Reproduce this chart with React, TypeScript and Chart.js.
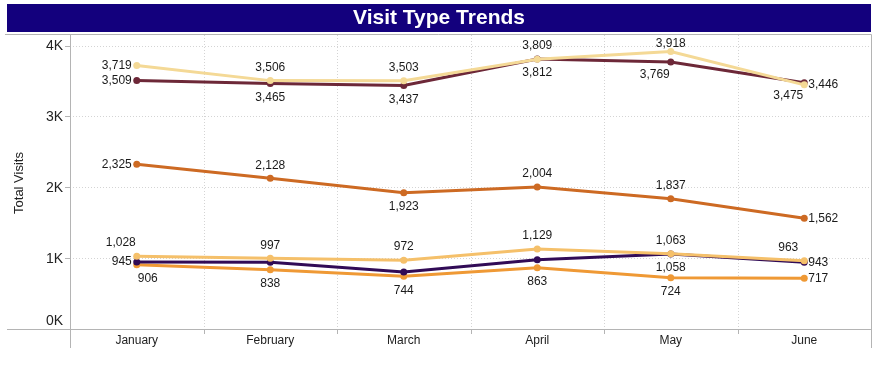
import React, { useEffect, useRef } from "react";
import { Chart, registerables } from "chart.js";

Chart.register(...registerables);

const months = ["January", "February", "March", "April", "May", "June"];
const yTicks = [0, 1000, 2000, 3000, 4000];

const seriesA = [3719, 3506, 3503, 3809, 3918, 3446];
const seriesB = [3509, 3465, 3437, 3812, 3769, 3475];
const seriesC = [2325, 2128, 1923, 2004, 1837, 1562];
const seriesD = [1028, 997, 972, 1129, 1063, 963];
const seriesE = [945, 942, 805, 978, 1058, 943];
const seriesF = [906, 838, 744, 863, 724, 717];

// label placement per point (null = hidden)
const placeA = ["l", "t", "t", "t", "t", "r"];
const placeB = ["l", "b", "b", "b", "bl", "bl"];
const placeC = ["l", "t", "b", "t", "t", "r"];
const placeD = ["tl", "t", "t", "t", "t", "tl"];
const placeE = ["l", null, null, null, "b", "r"];
const placeF = ["br", "b", "b", "b", "b", "r"];

const FONT = "'Liberation Sans', Arial, sans-serif";

const fmt = (v: number) => v.toLocaleString("en-US");

const customPlugin = {
  id: "custom",
  beforeDraw(chart: any) {
    const { ctx, chartArea, scales } = chart;
    const { left, right, top, bottom } = chartArea;
    ctx.save();
    // title bar
    ctx.fillStyle = "#13007d";
    ctx.fillRect(7, 4, 864, 28);
    ctx.fillStyle = "#ffffff";
    ctx.font = `bold 21px 'Liberation Sans Narrow', 'Arial Narrow', ${FONT}`;
    ctx.textAlign = "center";
    ctx.textBaseline = "middle";
    ctx.fillText("Visit Type Trends", 439, 18);

    // grid lines dotted
    ctx.strokeStyle = "#d4d4d4";
    ctx.lineWidth = 1;
    ctx.setLineDash([1, 2]);
    const x = scales.x;
    const y = scales.y;
    const n = months.length;
    const step = (right - left) / n;
    for (let i = 1; i < n; i++) {
      const gx = Math.round(left + step * i) + 0.5;
      ctx.beginPath();
      ctx.moveTo(gx, top);
      ctx.lineTo(gx, bottom);
      ctx.stroke();
    }
    yTicks.forEach((t) => {
      if (t === 0) return;
      const gy = Math.round(y.getPixelForValue(t)) + 0.5;
      ctx.beginPath();
      ctx.moveTo(left, gy);
      ctx.lineTo(right, gy);
      ctx.stroke();
    });
    ctx.setLineDash([]);

    // frame
    ctx.strokeStyle = "#b4b4b4";
    ctx.beginPath();
    ctx.moveTo(5, 34.5);
    ctx.lineTo(right + 0.5, 34.5);
    ctx.stroke();
    ctx.beginPath();
    ctx.moveTo(right + 0.5, 34.5);
    ctx.lineTo(right + 0.5, 348);
    ctx.stroke();
    ctx.beginPath();
    ctx.moveTo(left + 0.5, 34.5);
    ctx.lineTo(left + 0.5, 348);
    ctx.stroke();
    ctx.beginPath();
    ctx.moveTo(7, bottom + 0.5);
    ctx.lineTo(right, bottom + 0.5);
    ctx.stroke();

    // x tick marks
    for (let i = 1; i < n; i++) {
      const gx = Math.round(left + step * i) + 0.5;
      ctx.beginPath();
      ctx.moveTo(gx, bottom);
      ctx.lineTo(gx, bottom + 5);
      ctx.stroke();
    }
    // y tick marks
    yTicks.forEach((t) => {
      if (t === 0) return;
      const gy = Math.round(y.getPixelForValue(t)) + 0.5;
      ctx.beginPath();
      ctx.moveTo(left - 5, gy);
      ctx.lineTo(left, gy);
      ctx.stroke();
    });

    // y labels
    ctx.fillStyle = "#222";
    ctx.font = `14px ${FONT}`;
    ctx.textAlign = "right";
    ctx.textBaseline = "middle";
    yTicks.forEach((t) => {
      let gy = y.getPixelForValue(t);
      gy = Math.min(gy, bottom - 9);
      ctx.fillText(`${t / 1000}K`, left - 7, gy + 1);
    });

    // x labels
    ctx.font = `12px ${FONT}`;
    ctx.textAlign = "center";
    months.forEach((m, i) => {
      ctx.fillText(m, x.getPixelForValue(i), bottom + 12);
    });

    // axis title
    ctx.save();
    ctx.translate(19, 183);
    ctx.rotate(-Math.PI / 2);
    ctx.font = `13px ${FONT}`;
    ctx.textAlign = "center";
    ctx.fillText("Total Visits", 0, 0);
    ctx.restore();

    ctx.restore();
  },
  afterDatasetsDraw(chart: any) {
    const { ctx } = chart;
    const places = [placeA, placeB, placeC, placeD, placeE, placeF];
    ctx.save();
    ctx.font = `12px ${FONT}`;
    ctx.fillStyle = "#1a1a1a";
    chart.data.datasets.forEach((ds: any, di: number) => {
      const meta = chart.getDatasetMeta(di);
      meta.data.forEach((pt: any, i: number) => {
        const p = places[di][i];
        if (!p) return;
        const txt = fmt(ds.data[i]);
        let tx = pt.x;
        let ty = pt.y;
        ctx.textBaseline = "middle";
        ctx.textAlign = "center";
        if (p === "t") {
          ty -= 13;
        } else if (p === "b") {
          ty += 14;
        } else if (p === "l") {
          ctx.textAlign = "right";
          tx -= 5;
        } else if (p === "r") {
          ctx.textAlign = "left";
          tx += 4;
        } else if (p === "tl") {
          tx -= 16;
          ty -= 13;
        } else if (p === "bl") {
          tx -= 16;
          ty += 13;
        } else if (p === "br") {
          tx += 11;
          ty += 14;
        }
        ty = Math.max(ty, 44);
        ctx.fillText(txt, tx, ty);
      });
    });
    ctx.restore();
  },
};

export default function App() {
  const ref = useRef<HTMLCanvasElement>(null);
  useEffect(() => {
    if (!ref.current) return;
    const mk = (label: string, data: number[], color: string) => ({
      label,
      data,
      borderColor: color,
      backgroundColor: color,
      borderWidth: 3,
      pointRadius: 3.5,
      pointHoverRadius: 3.5,
      pointBorderWidth: 0,
      tension: 0,
    });
    const chart = new Chart(ref.current, {
      type: "line",
      data: {
        labels: months,
        datasets: [
          mk("A", seriesA, "#f4d996"),
          mk("B", seriesB, "#6d2838"),
          mk("C", seriesC, "#cd6a23"),
          mk("D", seriesD, "#f5c06a"),
          mk("E", seriesE, "#310b56"),
          mk("F", seriesF, "#ef9935"),
        ],
      },
      options: {
        animation: false,
        responsive: false,
        maintainAspectRatio: false,
        layout: { padding: { left: 70, right: 9, top: 35, bottom: 39 } },
        plugins: {
          legend: { display: false },
          tooltip: { enabled: false },
          title: { display: false },
        },
        scales: {
          x: { type: "category", display: false, offset: true },
          y: { type: "linear", display: false, min: 0, max: 4150 },
        },
      },
      plugins: [customPlugin],
    });
    return () => chart.destroy();
  }, []);
  return (
    <div style={{ position: "fixed", left: 0, top: 0, width: 880, height: 368, background: "#fff" }}>
      <canvas ref={ref} width={880} height={368} style={{ width: 880, height: 368 }} />
    </div>
  );
}
